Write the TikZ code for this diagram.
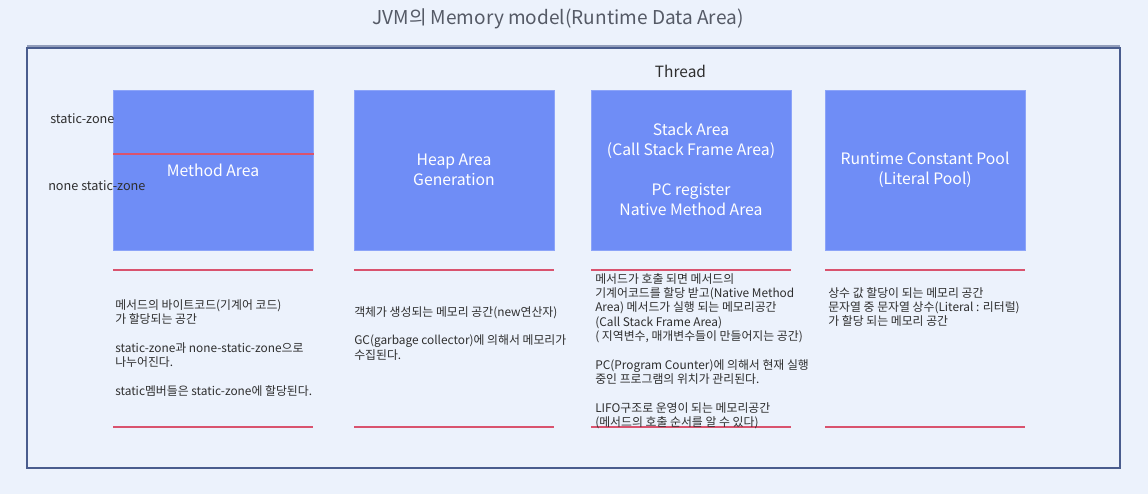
\documentclass[tikz,border=0pt]{standalone}
\usepackage{fontspec}
\setmainfont{Noto Sans CJK KR}
\definecolor{bg}{HTML}{ECF2FC}
\definecolor{frame}{HTML}{4A5D8E}
\definecolor{boxfill}{HTML}{6F8DF6}
\definecolor{redline}{HTML}{D9536E}
\definecolor{txt}{HTML}{2E2E2E}
\definecolor{ttl}{HTML}{555A66}
\tikzset{
  area/.style={fill=boxfill, draw=boxfill!80!white, line width=0.5pt, minimum width=150pt, minimum height=120pt, anchor=north west, inner sep=0pt},
  arealabel/.style={text=white, align=center, font=\fontsize{11.8}{15}\selectfont},
  sep/.style={draw=redline, line width=1pt},
  desc/.style={anchor=north west, align=left, text=txt, inner sep=0pt, font=\fontsize{8.9}{10.75}\selectfont},
  side/.style={text=txt, font=\fontsize{9.5}{11}\selectfont, inner sep=0pt}
}
\begin{document}
\begin{tikzpicture}[x=0.75pt,y=-0.75pt]
\fill[bg] (0,0) rectangle (1148,494);
\useasboundingbox (0,0) rectangle (1148,494);
% title
\node[text=ttl, font=\fontsize{14.3}{17}\selectfont] (title) at (558,19) {JVM의 Memory model(Runtime Data Area)};
% frame
\draw[frame!60!white, line width=2pt] (27,46.5) -- (1120,46.5);
\draw[frame, line width=1.3pt] (27,48) rectangle (1120,468);
\node[text=txt, font=\fontsize{11.6}{13}\selectfont] (thread) at (680.5,71) {Thread};
% boxes
\node[area] (method) at (113,90) {};
\node[area] (heap) at (354,90) {};
\node[area] (stack) at (591,90) {};
\node[area] (pool) at (825,90) {};
\draw[sep] (method.west |- 0,154) coordinate (ms) -- (method.east |- 0,154) coordinate (me);
\node[arealabel] at (213,170) {Method Area};
\node[arealabel] at (454,170) {Heap Area\\Generation};
\node[arealabel] at (691,169.5) {Stack Area\\(Call Stack Frame Area)\\[15pt]PC register\\Native Method Area};
\node[arealabel] at (925,170) {Runtime Constant Pool\\(Literal Pool)};
\node[side, anchor=west] (sz) at (50,119) {static-zone};
\node[side, anchor=west] (nsz) at (48,186) {none static-zone};
% separator lines
\foreach \n/\x in {a/113,b/354,c/591,d/825}{
  \coordinate (t\n1) at (\x,270); \coordinate (t\n2) at (\x+200,270);
  \coordinate (b\n1) at (\x,427); \coordinate (b\n2) at (\x+200,427);
  \draw[sep] (t\n1) -- (t\n2);
  \draw[sep] (b\n1) -- (b\n2);
}
% descriptions
\node[desc] (d1) at (115,299) {메서드의 바이트코드(기계어 코드)\\가 할당되는 공간\\[10.75pt]static-zone과 none-static-zone으로\\나누어진다.\\[10.75pt]static멤버들은 static-zone에 할당된다.};
\node[desc] (d2) at (354,306) {객체가 생성되는 메모리 공간(new연산자)\\[10.75pt]GC(garbage collector)에 의해서 메모리가\\수집된다.};
\node[desc] (d3) at (595,273) {메서드가 호출 되면 메서드의\\기계어코드를 할당 받고(Native Method\\Area) 메서드가 실행 되는 메모리공간\\(Call Stack Frame Area)\\( 지역변수, 매개변수들이 만들어지는 공간)\\[10.75pt]PC(Program Counter)에 의해서 현재 실행\\중인 프로그램의 위치가 관리된다.\\[10.75pt]LIFO구조로 운영이 되는 메모리공간\\(메서드의 호출 순서를 알 수 있다)};
\node[desc] (d4) at (828,287) {상수 값 할당이 되는 메모리 공간\\문자열 중 문자열 상수(Literal : 리터럴)\\가 할당 되는 메모리 공간};
\end{tikzpicture}
\end{document}
